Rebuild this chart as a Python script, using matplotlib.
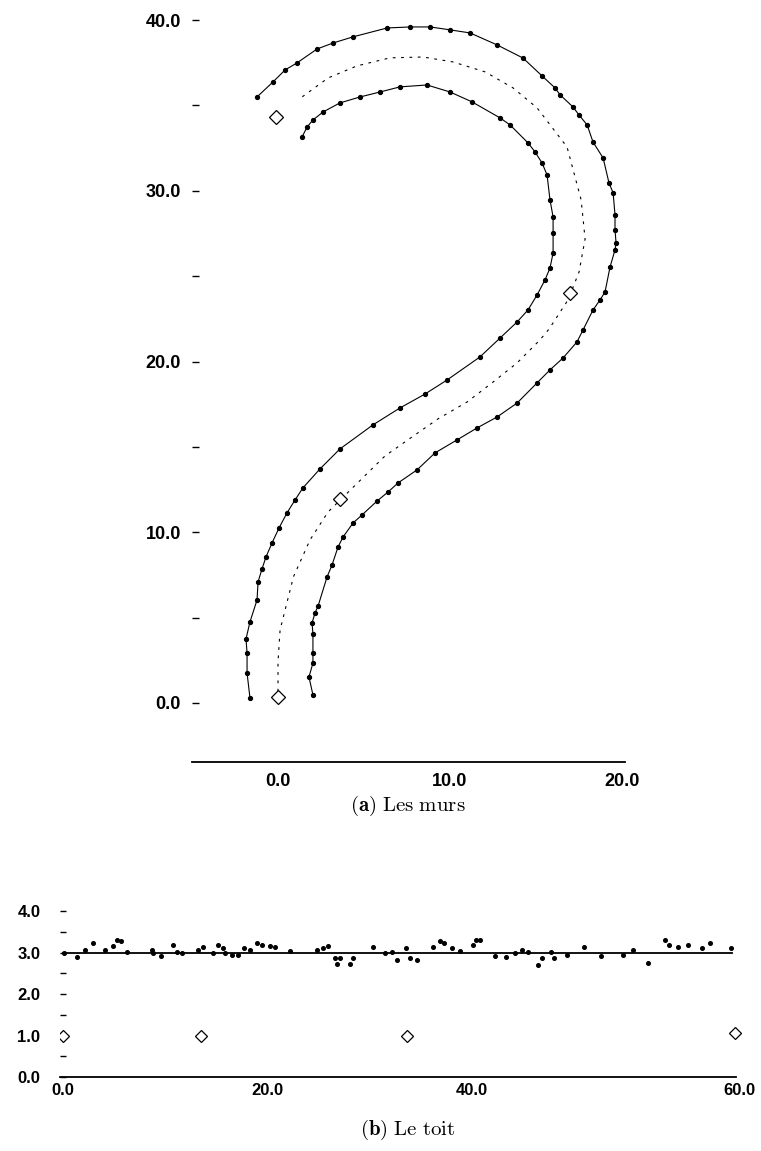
import matplotlib.pyplot as plt
import numpy as np

plt.rcParams['font.family'] = ['Liberation Sans', 'DejaVu Sans']
plt.rcParams['mathtext.fontset'] = 'cm'

# (a) walls: left wall, right wall, centre line, control points
wall_left_x = [-1.63, -1.80, -1.80, -1.86, -1.63, -1.22, -1.16, -0.93, -0.70, -0.35,
               0.06, 0.52, 0.99, 1.45, 2.44, 3.60, 5.52, 7.09, 8.55, 9.83,
               11.74, 12.91, 13.90, 14.53, 15.06, 15.52, 15.81, 15.99, 15.99, 15.99,
               15.81, 15.64, 15.35, 14.94, 14.53, 13.49, 12.91, 11.28, 10.00, 8.66,
               7.09, 5.93, 4.77, 3.60, 2.62, 2.03, 1.69, 1.40]
wall_left_y = [0.29, 1.76, 2.93, 3.75, 4.75, 6.03, 7.09, 7.85, 8.55, 9.37,
               10.25, 11.13, 11.89, 12.60, 13.71, 14.88, 16.29, 17.28, 18.10, 18.92,
               20.27, 21.38, 22.32, 23.02, 23.90, 24.78, 25.48, 26.36, 27.53, 28.47,
               29.47, 30.93, 31.63, 32.28, 32.81, 33.86, 34.27, 35.21, 35.79, 36.20,
               36.09, 35.79, 35.50, 35.15, 34.62, 34.15, 33.74, 33.16]

wall_right_x = [2.03, 1.80, 2.03, 2.03, 2.03, 1.98, 2.15, 2.33, 2.85, 3.14,
                3.49, 3.78, 4.36, 4.88, 5.76, 6.40, 6.98, 8.08, 9.13, 10.41,
                11.57, 12.73, 13.90, 15.06, 15.81, 16.57, 17.38, 17.73, 18.31, 18.72,
                19.01, 19.30, 19.59, 19.65, 19.59, 19.59, 19.48, 19.24, 18.90, 18.31,
                17.97, 17.50, 17.15, 16.40, 16.10, 15.35, 14.24, 12.73, 11.16, 10.00,
                8.84, 7.67, 6.34, 4.36, 3.20, 2.27, 1.10, 0.41, -0.29, -1.22]
wall_right_y = [0.47, 1.52, 2.34, 2.93, 4.04, 4.69, 5.27, 5.68, 7.38, 8.08,
                9.14, 9.72, 10.54, 11.01, 11.83, 12.36, 12.89, 13.65, 14.65, 15.41,
                16.11, 16.75, 17.57, 18.75, 19.51, 20.21, 21.15, 21.85, 23.02, 23.61,
                24.08, 25.54, 26.54, 26.95, 27.71, 28.59, 29.88, 30.46, 31.92, 32.86,
                33.86, 34.44, 34.91, 35.62, 36.03, 36.73, 37.78, 38.55, 39.25, 39.43,
                39.60, 39.60, 39.54, 39.02, 38.66, 38.31, 37.49, 37.08, 36.38, 35.50]

centre_x = [0.00, 0.00, 0.12, 0.90, 1.86, 2.91, 6.22, 7.79, 9.30, 10.99,
            12.44, 13.90, 15.23, 15.76, 16.86, 17.50, 17.85, 17.62, 16.80, 15.06,
            13.66, 12.03, 10.17, 8.43, 6.51, 4.59, 2.91, 1.40]
centre_y = [0.18, 2.40, 4.28, 7.40, 9.55, 11.19, 14.47, 15.58, 16.64, 17.63,
            18.75, 19.92, 21.27, 21.91, 23.61, 25.25, 27.18, 29.47, 32.57, 34.86,
            36.03, 36.97, 37.55, 37.84, 37.79, 37.32, 36.61, 35.50]

knots_a_x = [0.0, 3.6, 16.97, -0.1]
knots_a_y = [0.35, 11.95, 24.0, 34.3]

# (b) roof: measured heights along the roof, fitted level, control points
roof_x = [0.10, 1.37, 2.15, 2.94, 4.11, 4.89, 5.28, 5.68, 6.26, 8.71,
          8.81, 9.59, 10.76, 11.15, 11.64, 13.21, 13.70, 14.68, 15.17, 15.66,
          15.85, 16.54, 17.12, 17.71, 18.30, 18.98, 19.47, 20.25, 20.74, 22.21,
          24.85, 25.44, 25.93, 26.61, 27.10, 26.81, 28.08, 28.38, 30.33, 31.51,
          32.19, 32.68, 33.56, 33.95, 34.64, 36.20, 36.89, 37.28, 38.06, 38.85,
          40.12, 40.41, 40.80, 42.27, 43.35, 44.23, 44.91, 45.50, 46.87, 46.48,
          47.75, 48.04, 49.32, 50.98, 52.64, 54.79, 55.77, 57.24, 58.90, 59.30,
          60.18, 61.15, 62.52, 63.31, 65.36]
roof_y = [3.00, 2.90, 3.07, 3.22, 3.07, 3.17, 3.31, 3.27, 3.02, 3.07,
          3.00, 2.93, 3.19, 3.02, 2.98, 3.07, 3.14, 2.98, 3.19, 3.10,
          3.00, 2.95, 2.95, 3.12, 3.07, 3.22, 3.19, 3.17, 3.14, 3.05,
          3.07, 3.10, 3.17, 2.86, 2.88, 2.73, 2.73, 2.88, 3.14, 3.00,
          3.02, 2.83, 3.10, 2.88, 2.81, 3.14, 3.27, 3.22, 3.10, 3.05,
          3.19, 3.31, 3.31, 2.93, 2.90, 2.98, 3.07, 3.02, 2.88, 2.71,
          3.02, 2.88, 2.95, 3.14, 2.93, 2.95, 3.07, 2.76, 3.31, 3.19,
          3.14, 3.19, 3.10, 3.22, 3.12]
roof_level = 3.0
roof_span = [0.0, 65.5]
knots_b_x = [0.0, 13.5, 33.66, 65.75]
knots_b_y = [1.0, 1.0, 1.0, 1.05]

fig = plt.figure(figsize=(7.61, 11.51), dpi=100)

# ---- (a) Les murs
ax1 = fig.add_axes([192 / 761, 1 - 762 / 1151, 433 / 761, 747 / 1151])
for wx, wy in [(wall_left_x, wall_left_y), (wall_right_x, wall_right_y)]:
    ax1.plot(wx, wy, color='k', lw=0.8)
    ax1.plot(wx, wy, 'o', color='k', ms=2.8, ls='none')
ax1.plot(centre_x, centre_y, color='k', lw=0.8, ls=(0, (2.5, 5)))
ax1.plot(knots_a_x, knots_a_y, 'D', mfc='white', mec='k', ms=7, mew=0.9, ls='none')

ax1.set_xlim(-5.0, 20.17)
ax1.set_ylim(-3.46, 40.3)
for s in ['top', 'right', 'left']:
    ax1.spines[s].set_visible(False)
ax1.spines['bottom'].set_linewidth(1.3)
ax1.set_xticks([0, 10, 20])
ax1.set_xticklabels(['0.0', '10.0', '20.0'])
yt = np.arange(0, 41, 5)
ax1.set_yticks(yt)
ax1.set_yticklabels(['%.1f' % v if v % 10 == 0 else '' for v in yt])
ax1.tick_params(axis='x', length=0, pad=8, labelsize=13)
ax1.tick_params(axis='y', direction='in', length=5, width=1, pad=8, labelsize=13)
for lab in ax1.get_xticklabels() + ax1.get_yticklabels():
    lab.set_fontweight('bold')

fig.text(408 / 761, 1 - 806 / 1151, r'$\mathbf{(a)}\ \mathrm{Les\ murs}$',
         ha='center', va='center', fontsize=15)

# ---- (b) Le toit
ax2 = fig.add_axes([59.9 / 761, 1 - 1077 / 1151, 680.7 / 761, 170 / 1151])
ax2.plot(roof_span, [roof_level, roof_level], color='k', lw=1.3)
ax2.plot(roof_x, roof_y, 'o', color='k', ms=2.6, ls='none')
ax2.plot(knots_b_x, knots_b_y, 'D', mfc='white', mec='k', ms=6, mew=0.9, ls='none')

ax2.set_xlim(-0.3, 66.3)
ax2.set_ylim(0, 4.1)
for s in ['top', 'right', 'left']:
    ax2.spines[s].set_visible(False)
ax2.spines['bottom'].set_bounds(-0.3, 65.85)
ax2.spines['bottom'].set_linewidth(1.3)
ax2.set_xticks([0, 20, 40, 66.2])
ax2.set_xticklabels(['0.0', '20.0', '40.0', '60.0'])
yt2 = np.arange(0, 4.01, 0.5)
ax2.set_yticks(yt2)
ax2.set_yticklabels(['%.1f' % v if v % 1 == 0 else '' for v in yt2])
ax2.tick_params(axis='x', length=0, pad=4, labelsize=12)
ax2.tick_params(axis='y', direction='in', length=4, width=1, pad=14, labelsize=12)
for lab in ax2.get_xticklabels() + ax2.get_yticklabels():
    lab.set_fontweight('bold')

fig.text(408 / 761, 1 - 1130 / 1151, r'$\mathbf{(b)}\ \mathrm{Le\ toit}$',
         ha='center', va='center', fontsize=15)

fig.savefig('out.png', dpi=100)
